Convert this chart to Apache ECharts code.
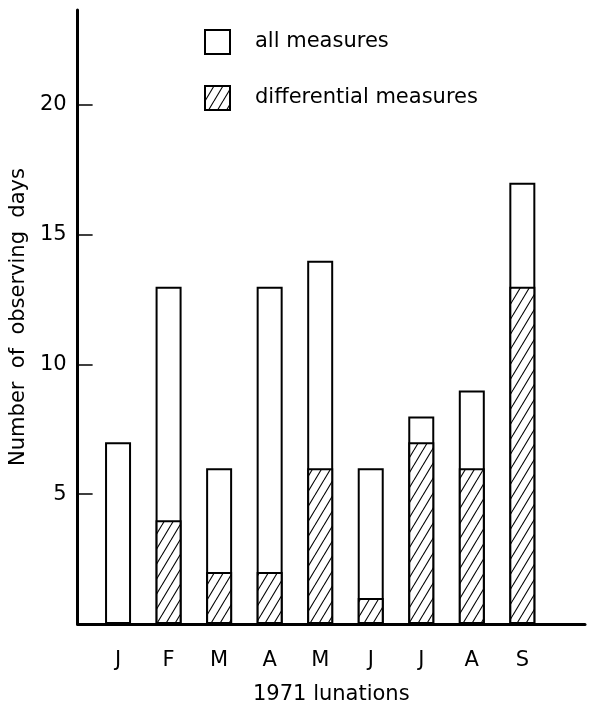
<!DOCTYPE html>
<html>
<head>
<meta charset="utf-8">
<script src="https://cdn.jsdelivr.net/npm/echarts@6/dist/echarts.min.js"></script>
<style>html,body{margin:0;padding:0;background:#fff}#c{width:594px;height:710px}</style>
</head>
<body>
<div id="c"></div>
<script>
// Data
const months = ['J', 'F', 'M', 'A', 'M', 'J', 'J', 'A', 'S'];
const allMeasures = [7, 13, 6, 13, 14, 6, 8, 9, 17];
const differentialMeasures = [0, 4, 2, 2, 6, 1, 7, 6, 13];
const yTickValues = [5, 10, 15, 20];
const seriesNames = ['all measures', 'differential measures'];

// hatch pattern "/"
function makeHatch() {
  const w = 9, h = 15;
  const c = document.createElement('canvas');
  c.width = w; c.height = h;
  const g = c.getContext('2d');
  g.fillStyle = '#fff';
  g.fillRect(0, 0, w, h);
  g.strokeStyle = '#000';
  g.lineWidth = 1.1;
  for (const off of [-w, 0, w]) {
    g.beginPath();
    g.moveTo(off, h);
    g.lineTo(off + w, 0);
    g.stroke();
  }
  return c;
}
const hatch = { image: makeHatch(), repeat: 'repeat' };

const FONT = 'DejaVu Sans';
const chart = echarts.init(document.getElementById('c'), null, { renderer: 'canvas' });
const xIdx = months.map((m, i) => i);

chart.setOption({
  animation: false,
  backgroundColor: '#fff',
  textStyle: { fontFamily: FONT, color: '#000' },
  legend: {
    orient: 'vertical',
    left: 199,
    top: 24,
    itemWidth: 25,
    itemHeight: 24,
    itemGap: 30,
    icon: 'rect',
    data: seriesNames,
    textStyle: { fontFamily: FONT, fontSize: 21, color: '#000', padding: [0, 0, 0, 20] },
    selectedMode: false
  },
  grid: { left: 72, right: 9, top: 10, bottom: 80, containLabel: false },
  xAxis: {
    type: 'value',
    min: -0.8,
    max: 9.24,
    name: '1971 lunations',
    nameLocation: 'middle',
    nameGap: 60,
    nameTextStyle: { fontFamily: FONT, fontSize: 21, color: '#000' },
    axisLine: { show: true, onZero: false, lineStyle: { color: '#000', width: 3 } },
    axisTick: { show: false },
    splitLine: { show: false },
    axisLabel: {
      customValues: xIdx,
      formatter: v => (Number.isInteger(v) && v >= 0 && v < months.length) ? months[v] : '',
      fontFamily: FONT, fontSize: 21, color: '#000', margin: 26
    }
  },
  yAxis: {
    type: 'value',
    min: 0,
    max: 23.66,
    name: 'Number  of  observing  days',
    nameLocation: 'middle',
    nameGap: 44,
    nameRotate: 90,
    nameTextStyle: { fontFamily: FONT, fontSize: 21, color: '#000' },
    axisLine: { show: true, onZero: false, lineStyle: { color: '#000', width: 3 } },
    axisTick: { show: true, inside: true, length: 15, customValues: yTickValues, lineStyle: { color: '#000', width: 1.5 } },
    splitLine: { show: false },
    axisLabel: {
      customValues: yTickValues,
      fontFamily: FONT, fontSize: 21, color: '#000', margin: 11
    }
  },
  series: [
    {
      name: seriesNames[0],
      type: 'bar',
      barWidth: 26,
      data: allMeasures.map((v, i) => [i, v]),
      itemStyle: { color: '#fff', borderColor: '#000', borderWidth: 2 },
      z: 2
    },
    {
      name: seriesNames[1],
      type: 'bar',
      barWidth: 26,
      barGap: '-100%',
      data: differentialMeasures.map((v, i) => [i, v]),
      itemStyle: { color: hatch, borderColor: '#000', borderWidth: 2 },
      z: 3
    }
  ]
});
</script>
</body>
</html>
